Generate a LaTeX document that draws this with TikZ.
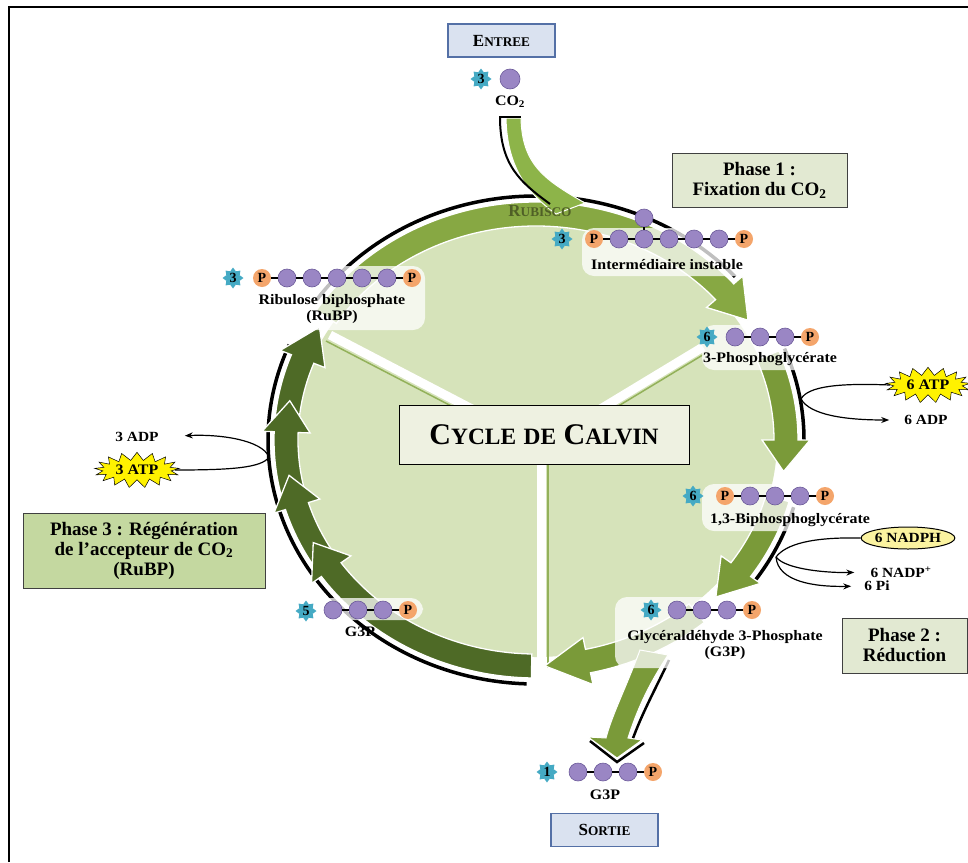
\documentclass[tikz,border=0pt]{standalone}
\usepackage{fontspec}
\setmainfont{Liberation Serif}
\newfontfamily\labelfont[FakeStretch=1.1]{Liberation Serif}
\usepackage{graphicx}
\usetikzlibrary{shapes.geometric,shapes.symbols,arrows.meta}

\definecolor{diskgreen}{HTML}{D6E3BA}
\definecolor{fixgreen}{HTML}{87A843}
\definecolor{redgreen}{HTML}{7A9A39}
\definecolor{regengreen}{HTML}{4E6A26}
\definecolor{co2green}{HTML}{8DB449}
\definecolor{seamgreen}{HTML}{93B15A}
\definecolor{sugarpurple}{HTML}{9A86C4}
\definecolor{sugaredge}{HTML}{6B5A99}
\definecolor{phosorange}{HTML}{F4A56B}
\definecolor{badgeblue}{HTML}{45AAC4}
\definecolor{boxgreen}{HTML}{E2E9D2}
\definecolor{boxdkgreen}{HTML}{C4D8A0}
\definecolor{cyclefill}{HTML}{EEF1E1}
\definecolor{iofill}{HTML}{DAE2F0}
\definecolor{ioedge}{HTML}{5470A6}
\definecolor{rubiscocol}{HTML}{4F5F26}
\definecolor{atpyellow}{HTML}{FFF200}
\definecolor{nadphyellow}{HTML}{FBF3A0}

\newcommand{\lowcaps}[1]{\scalebox{0.78}{#1}}

% band arrow: start angle, tip angle, colour, head length (deg)
\newcommand{\bandarrow}[4]{%
  \filldraw[fill=#3,draw=white,line width=1.3pt]
    (#1:262 and 238) arc[start angle=#1,end angle=#2-#4,x radius=262,y radius=238]
    -- (#2-#4:274 and 250) -- (#2:250 and 226) -- (#2-#4:226 and 202)
    -- (#2-#4:238 and 214) arc[start angle=#2-#4,end angle=#1,x radius=238,y radius=214]
    -- cycle;}
% black rim outside a band arrow
\newcommand{\bandrim}[2]{%
  \draw[line width=3.5pt] (#1:268 and 244) arc[start angle=#1,end angle=#2,x radius=268,y radius=244];}
% chain of sugars / phosphates: prefix, x, y, types
\newcommand{\chain}[4]{%
  \foreach \t [count=\k] in {#4}{%
    \node[\t] (#1\k) at ({#2+25*(\k-1)},#3) {};
    \ifnum\k>1 \pgfmathtruncatemacro{\j}{\k-1}\draw[bond] (#1\j) -- (#1\k);\fi
  }}

\tikzset{
  sugar/.style={circle,fill=sugarpurple,draw=sugaredge,line width=0.6pt,minimum size=18,inner sep=0pt},
  phos/.style={circle,fill=phosorange,minimum size=18,inner sep=0pt,
    label={[font=\bfseries\fontsize{14}{14}\selectfont,inner sep=0pt]center:P}},
  bond/.style={line width=1.3pt},
  badge/.style={star,star points=8,star point ratio=1.45,fill=badgeblue,minimum size=21,inner sep=0pt,
    font=\bfseries\fontsize{14}{14}\selectfont},
  molname/.style={font=\labelfont\bfseries\fontsize{14.5}{16}\selectfont,align=center,inner sep=1pt},
  pill/.style={fill=white,fill opacity=0.75,rounded corners=12pt},
  phasebox/.style={draw=black!75,line width=1pt,fill=boxgreen,align=center,
    font=\bfseries\fontsize{19}{20}\selectfont},
  iobox/.style={draw=ioedge,fill=iofill,line width=1.2pt,minimum width=107,minimum height=33,
    font=\bfseries\fontsize{17}{17}\selectfont},
  atpburst/.style={starburst,starburst points=17,starburst point height=8pt,random starburst=0,
    fill=atpyellow,draw=black,line width=0.5pt,inner xsep=3pt,inner ysep=2pt,
    font=\labelfont\bfseries\fontsize{14.5}{14.5}\selectfont},
  cofactor/.style={font=\labelfont\bfseries\fontsize{14}{14}\selectfont,inner sep=1pt},
  flow/.style={line width=1.2pt,-{Stealth[length=8pt,width=6pt]}},
}

\begin{document}
\begin{tikzpicture}[x=1pt,y=1pt,yscale=-1]
\useasboundingbox (0,0) rectangle (968,862);
\draw[line width=1.6pt] (9,862) -- (9,7) -- (968,7);

% disk and seams
\fill[diskgreen] (536,440) ellipse [x radius=241,y radius=217];
\coordinate (hub) at (541,445);
\draw[seamgreen,line width=1.5pt] (326,341) -- (538,451);
\draw[seamgreen,line width=1.5pt] (706,353) -- (544,451);
\draw[seamgreen,line width=1.5pt] (548,450) -- (548,668);
\draw[white,line width=9pt] (hub) -- (330,335);
\draw[white,line width=9pt] (hub) -- (703,347);
\draw[white,line width=9pt] (hub) -- (541,690);

% cycle band
\begin{scope}[shift={(536,440)}]
  \bandrim{-145}{-42}
  \bandrim{-22}{0}
  \bandrim{16}{36}
  \bandrim{92}{203}
  \bandarrow{-147}{-32}{fixgreen}{9}
  \bandarrow{-22}{8}{redgreen}{8}
  \bandarrow{15}{44}{redgreen}{9}
  \bandarrow{50}{88}{redgreen}{10}
  \bandarrow{186}{210}{regengreen}{9}
  \bandarrow{167}{190}{regengreen}{8}
  \bandarrow{149}{171}{regengreen}{8}
  \bandarrow{91}{153}{regengreen}{8}
\end{scope}

% CO2 entry arrow
\filldraw[fill=co2green,draw=white,line width=1pt] (506,118) -- (521,118)
  .. controls (522,165) and (545,180) .. (585,203) -- (556,214)
  .. controls (530,195) and (507,170) .. (506,118) -- cycle;
\draw[line width=2.5pt] (499,117) -- (521,117);
\draw[line width=2pt] (500,117) .. controls (500,165) and (520,182) .. (550,204);

% G3P exit arrow
\draw[line width=2.5pt] (669,660) .. controls (656,688) and (642,713) .. (632,741);
\draw[line width=2.5pt] (590,741) -- (617,762) -- (644,743);
\filldraw[fill=redgreen,draw=white,line width=1pt] (640,650)
  .. controls (625,690) and (612,715) .. (606,738) -- (588,737) -- (617,758) -- (642,740)
  -- (628,738) .. controls (640,700) and (655,675) .. (668,655) -- cycle;

% highlights
\fill[pill] (582,228) rectangle (758,276);
\fill[pill] (250,266) rectangle (425,330);
\fill[pill] (702,325) rectangle (842,370);
\fill[pill] (702,484) rectangle (850,531);
\fill[pill] (615,597) rectangle (775,668);
\fill[pill] (318,598) rectangle (423,620);

% boxes
\node[draw=black,line width=1pt,fill=cyclefill,minimum width=290,minimum height=59,
  font=\bfseries\fontsize{30}{30}\selectfont] (cycle) at (544,434.5)
  {C\lowcaps{YCLE} \lowcaps{DE} C\lowcaps{ALVIN}};
\node[phasebox,minimum width=175,minimum height=54] (phase1) at (759.5,180) {Phase 1 :\\Fixation du CO\textsubscript{2}};
\node[phasebox,minimum width=125,minimum height=55] (phase2) at (904.5,645.5) {Phase 2 :\\Réduction};
\node[phasebox,fill=boxdkgreen,minimum width=242,minimum height=75] (phase3) at (144,550.5)
  {Phase 3 : Régénération\\de l’accepteur de CO\textsubscript{2}\\(RuBP)};
\node[iobox] (entree) at (501.5,40.5) {E\lowcaps{NTREE}};
\node[iobox] (sortie) at (604.5,830) {S\lowcaps{ORTIE}};
\node[text=rubiscocol,font=\bfseries\fontsize{17}{17}\selectfont] (rubisco) at (540,211) {R\lowcaps{UBISCO}};

% molecules
\node[badge] (co2N) at (481,79) {3};
\node[sugar,minimum size=20] (co2) at (510,79) {};
\node[molname] (co2lbl) at (510,102) {CO\textsubscript{2}};

\node[badge] (intN) at (562,239) {3};
\chain{int}{594}{239}{phos,sugar,sugar,sugar,sugar,sugar,phos}
\node[sugar] (intTop) at (644,218) {};
\draw[bond] (int3) -- (intTop);
\node[molname] (intlbl) at (667,265) {Intermédiaire instable};

\node[badge] (rubpN) at (233,278) {3};
\chain{rubp}{262}{278}{phos,sugar,sugar,sugar,sugar,sugar,phos}
\node[molname] (rubplbl) at (332,309) {Ribulose biphosphate\\(RuBP)};

\node[badge] (pgaN) at (707,337) {6};
\chain{pga}{735}{337}{sugar,sugar,sugar,phos}
\node[molname] (pgalbl) at (770,359) {3-Phosphoglycérate};

\node[badge] (bpgN) at (693,496) {6};
\chain{bpg}{725}{496}{phos,sugar,sugar,sugar,phos}
\node[molname] (bpglbl) at (790,520) {1,3-Biphosphoglycérate};

\node[badge] (gapRN) at (651,610) {6};
\chain{gapR}{677}{610}{sugar,sugar,sugar,phos}
\node[molname] (gapRlbl) at (725,645) {Glycéraldéhyde 3-Phosphate\\(G3P)};

\node[badge] (gapLN) at (306,611) {5};
\chain{gapL}{333}{610}{sugar,sugar,sugar,phos}
\node[molname] (gapLlbl) at (360,632) {G3P};

\node[badge] (gapON) at (547,772) {1};
\chain{gapO}{578}{772}{sugar,sugar,sugar,phos}
\node[molname] (gapOlbl) at (605,795) {G3P};

% energy carriers
\node[atpburst] (atpR) at (928,385) {6 ATP};
\node[cofactor] (adpR) at (926,420) {6 ADP};
\coordinate (atpJoin) at (801,399);
\draw[flow,shorten >=14pt] (atpR.west) .. controls (840,383) and (808,386) .. (atpJoin)
  .. controls (810,415) and (845,420) .. (adpR.west);

\node[draw=black,line width=1pt,fill=nadphyellow,ellipse,minimum width=88,minimum height=22,inner sep=0pt,
  font=\labelfont\bfseries\fontsize{14}{14}\selectfont] (nadph) at (908,538) {6 NADPH};
\node[cofactor] (nadp) at (901,572) {6 NADP\textsuperscript{+}};
\node[cofactor] (pi) at (877,586) {6 Pi};
\coordinate (nadJoin) at (776,557);
\draw[line width=1.2pt] (nadph.west) .. controls (812,537) and (786,544) .. (nadJoin);
\draw[flow,shorten >=15pt] (nadJoin) .. controls (786,570) and (830,573) .. (nadp.west);
\draw[flow,shorten >=12pt] (nadJoin) .. controls (778,582) and (815,587) .. (pi.west);

\node[atpburst] (atpL) at (137,470) {3 ATP};
\node[cofactor] (adpL) at (137,437) {3 ADP};
\coordinate (atpJoinL) at (269,457);
\draw[flow,shorten >=25pt] (atpL.east) .. controls (230,470) and (262,468) .. (atpJoinL)
  .. controls (262,440) and (220,434) .. (adpL.east);
\end{tikzpicture}
\end{document}
